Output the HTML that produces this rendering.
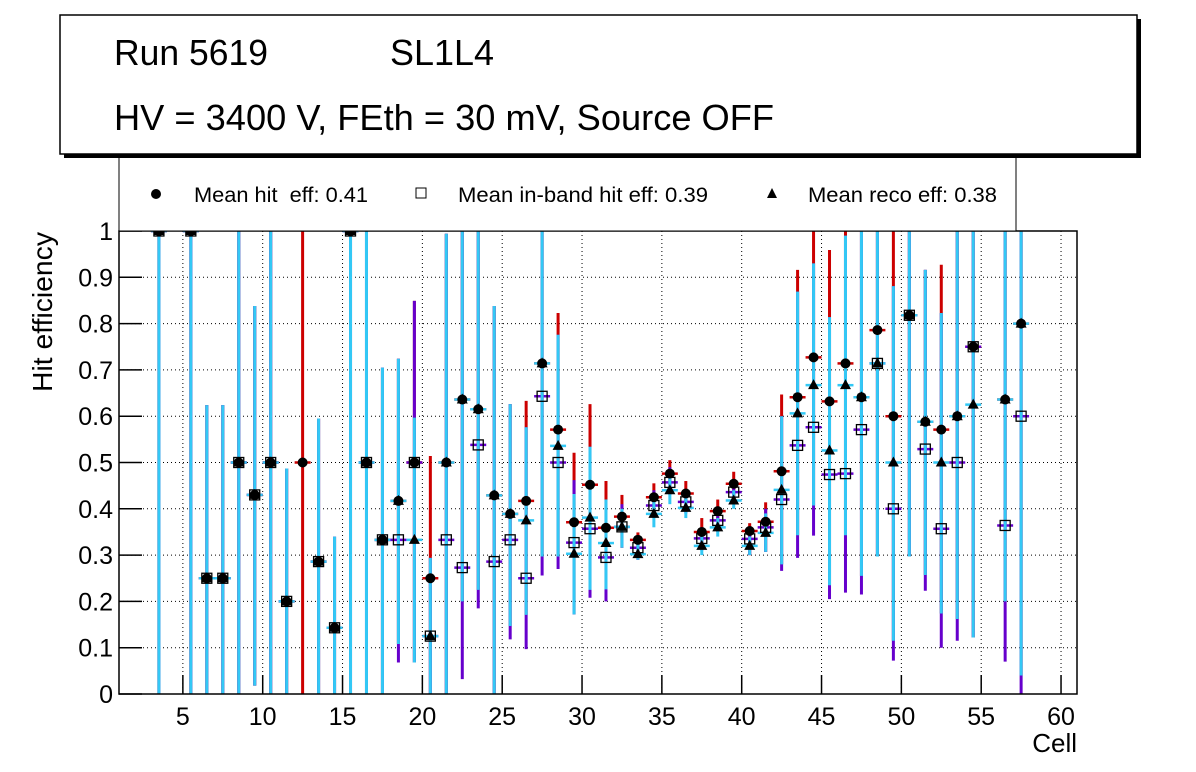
<!DOCTYPE html>
<html><head><meta charset="utf-8">
<style>
html,body{margin:0;padding:0;background:#fff;}
svg{display:block;font-family:"Liberation Sans",Arial,sans-serif;}
text{white-space:pre;}
</style></head>
<body>
<svg id="chart" width="1196" height="772" viewBox="0 0 1196 772">
  <rect x="0" y="0" width="1196" height="772" fill="#fff"/>
  <g id="grid"></g>
  <g id="marks"></g>
  <rect x="119" y="231" width="958" height="463" fill="none" stroke="#000" stroke-width="1.5"/>
  <g id="axes"></g>
  <text x="1077" y="752" font-size="26" text-anchor="end">Cell</text>
  <text transform="translate(52,232) rotate(-90)" font-size="28" text-anchor="end" textLength="160" lengthAdjust="spacingAndGlyphs">Hit efficiency</text>
  <g>
    <rect x="119" y="140" width="897" height="91" fill="#fff" stroke="#000" stroke-width="1"/>
    <circle cx="156" cy="194" r="5" fill="#000"/>
    <text x="194" y="202" font-size="21" textLength="174" lengthAdjust="spacingAndGlyphs">Mean hit  eff: 0.41</text>
    <rect x="416" y="188" width="10" height="10" fill="#fff" stroke="#000" stroke-width="1"/>
    <text x="458" y="202" font-size="21" textLength="250" lengthAdjust="spacingAndGlyphs">Mean in-band hit eff: 0.39</text>
    <path d="M772,188 L777,198 L767,198 Z" fill="#000"/>
    <text x="808" y="202" font-size="21" textLength="189" lengthAdjust="spacingAndGlyphs">Mean reco eff: 0.38</text>
  </g>
  <g>
    <rect x="64" y="19" width="1077" height="139" fill="#000"/>
    <rect x="60" y="15" width="1077" height="139" fill="#fff" stroke="#000" stroke-width="1.5"/>
    <text x="114" y="65" font-size="36" textLength="154" lengthAdjust="spacingAndGlyphs">Run 5619</text>
    <text x="390" y="65" font-size="36" textLength="104" lengthAdjust="spacingAndGlyphs">SL1L4</text>
    <text x="114" y="130" font-size="36" textLength="660" lengthAdjust="spacingAndGlyphs">HV = 3400 V, FEth = 30 mV, Source OFF</text>
  </g>
</svg>
<script>
const cells   = [3,5,6,7,8,9,10,11,12,13,14,15,16,17,18,19,20,21,22,23,24,25,26,27,28,29,30,31,32,33,34,35,36,37,38,39,40,41,42,43,44,45,46,47,48,49,50,51,52,53,54,56,57];
const hit     = [1,1,.25,.25,.5,.43,.5,.2,.5,.286,.143,1,.5,.333,.417,.5,.25,.5,.636,.615,.429,.389,.417,.714,.571,.371,.452,.359,.383,.333,.425,.476,.433,.35,.395,.454,.352,.372,.481,.641,.727,.632,.714,.641,.786,.6,.818,.588,.571,.6,.75,.636,.8];
const hitLo   = [0,0,0,0,0,.018,0,0,0,0,0,0,0,0,.108,.068,0,0,.2,.225,0,.147,.171,.297,.297,.172,.225,.226,.316,.29,.39,.44,.40,.32,.36,.42,.30,.307,.28,.343,.407,.235,.3,.255,.297,.115,.297,.257,.174,.162,.122,.2,.04];
const hitHi   = [1,1,.624,.624,1,.838,1,.487,1,.595,.34,1,1,.705,.724,.849,.514,.994,1,1,.838,.626,.633,1,.823,.521,.626,.46,.43,.349,.455,.505,.46,.38,.42,.48,.369,.414,.647,.916,1,.959,1,1,1,1,1,.916,.927,1,1,1,1];
const band    = [1,1,.25,.25,.5,.43,.5,.2,null,.286,.143,1,.5,.333,.333,.5,.125,.333,.273,.538,.286,.333,.25,.643,.5,.327,.357,.295,.361,.316,.407,.457,.415,.336,.375,.436,.335,.36,.42,.537,.576,.474,.476,.571,.714,.4,.818,.529,.357,.5,.75,.364,.6];
const bandLo  = [0,0,0,0,0,.018,0,0,null,0,0,0,0,0,.068,.068,0,0,.032,.185,0,.118,.097,.256,.27,.172,.208,.2,.316,.29,.38,.43,.39,.31,.35,.41,.30,.307,.266,.294,.342,.205,.219,.215,.297,.072,.297,.223,.1,.115,.122,.07,0];
const bandHi  = [1,1,.624,.624,1,.838,1,.487,null,.595,.34,1,1,.705,.724,.849,.294,.994,1,1,.838,.626,.576,1,.776,.462,.534,.42,.41,.34,.44,.49,.44,.36,.40,.46,.36,.40,.6,.869,.93,.814,.99,1,1,.881,1,.916,.823,1,1,1,1];
const reco    = [1,1,.25,.25,.5,.43,.5,.2,null,.286,.143,1,.5,.333,.417,.333,.125,.5,.636,.615,.429,.389,.375,.714,.536,.303,.381,.326,.361,.302,.389,.44,.402,.32,.36,.418,.32,.348,.441,.606,.667,.526,.667,.641,.714,.5,.818,.588,.5,.6,.625,.636,.8];
const recoLo  = [0,0,0,0,0,.018,0,0,null,0,0,0,0,0,.108,.068,0,0,.2,.225,0,.147,.171,.297,.297,.172,.225,.226,.316,.29,.36,.41,.38,.30,.34,.40,.30,.307,.28,.343,.407,.235,.343,.255,.297,.115,.297,.257,.174,.162,.122,.2,.04];
const recoHi  = [1,1,.624,.624,1,.838,1,.487,null,.595,.34,1,1,.705,.724,.597,.294,.994,1,1,.838,.626,.576,1,.776,.432,.534,.42,.40,.33,.42,.47,.43,.34,.38,.44,.34,.39,.6,.869,.93,.814,.99,1,1,.881,1,.916,.823,1,1,1,1];
const xTicks  = [5,10,15,20,25,30,35,40,45,50,55,60];
const yTicks  = [0,0.1,0.2,0.3,0.4,0.5,0.6,0.7,0.8,0.9,1];
const yTickLabels = ["0","0.1","0.2","0.3","0.4","0.5","0.6","0.7","0.8","0.9","1"];

const NS="http://www.w3.org/2000/svg";
const X0=119, X1=1077, Y0=694, Y1=231, XMIN=1, XMAX=61;
const xs=v=>X0+(v-XMIN)/(XMAX-XMIN)*(X1-X0);
const ys=v=>Y0-v*(Y0-Y1);
function mk(tag,attrs,parent){const e=document.createElementNS(NS,tag);for(const k in attrs)e.setAttribute(k,attrs[k]);parent.appendChild(e);return e;}

const grid=document.getElementById('grid');
const axes=document.getElementById('axes');
xTicks.forEach((t,i)=>{
  const x=xs(t);
  const g=mk('line',{x1:x,x2:x,y1:Y1,y2:Y0,stroke:'#000','stroke-width':1,'stroke-dasharray':'1,3'},grid);
  
  
  const tk=mk('line',{x1:x,x2:x,y1:Y0,y2:Y0-19,stroke:'#000','stroke-width':1.5},axes);
  
  
  const lb=mk('text',{x:x,y:725,'font-size':25,'text-anchor':'middle'},axes);
  lb.textContent=String(t);
  
  
});
yTicks.forEach((t,i)=>{
  const y=ys(t);
  const g=mk('line',{x1:X0,x2:X1,y1:y,y2:y,stroke:'#000','stroke-width':1,'stroke-dasharray':'1,3'},grid);
  
  
  const tk=mk('line',{x1:X0,x2:X0+23,y1:y,y2:y,stroke:'#000','stroke-width':1.5},axes);
  
  
  const lb=mk('text',{x:113,y:y+9,'font-size':25,'text-anchor':'end'},axes);
  lb.textContent=yTickLabels[i];
  
  
});

const marks=document.getElementById('marks');
const hw=(X1-X0)/(XMAX-XMIN)/2;
function bars(vals,lo,hi,color,name){
  cells.forEach((c,i)=>{
    if(vals[i]==null)return;
    const x=xs(c+0.5);
    const v=mk('line',{x1:x,x2:x,y1:ys(lo[i]),y2:ys(hi[i]),stroke:color,'stroke-width':3},marks);
    
    
    const h=mk('line',{x1:x-hw,x2:x+hw,y1:ys(vals[i]),y2:ys(vals[i]),stroke:color,'stroke-width':2.5},marks);
    
    
  });
}
bars(hit,hitLo,hitHi,'#cc0000','hit');
bars(band,bandLo,bandHi,'#6600cc','inband');
bars(reco,recoLo,recoHi,'#33c8f5','reco');
cells.forEach((c,i)=>{
  const x=xs(c+0.5);
  const p=mk('circle',{cx:x,cy:ys(hit[i]),r:5,fill:'#000'},marks);
  
  
});
cells.forEach((c,i)=>{
  if(band[i]==null)return;
  const x=xs(c+0.5),y=ys(band[i]);
  const p=mk('rect',{x:x-5,y:y-5,width:10,height:10,fill:'#fff','fill-opacity':0,stroke:'#000','stroke-width':1.3},marks);
  
  
});
cells.forEach((c,i)=>{
  if(reco[i]==null)return;
  const x=xs(c+0.5),y=ys(reco[i]);
  const p=mk('path',{d:`M${x},${y-6} L${x+5.5},${y+4} L${x-5.5},${y+4} Z`,fill:'#000'},marks);
  
  
});
</script>
</body></html>
